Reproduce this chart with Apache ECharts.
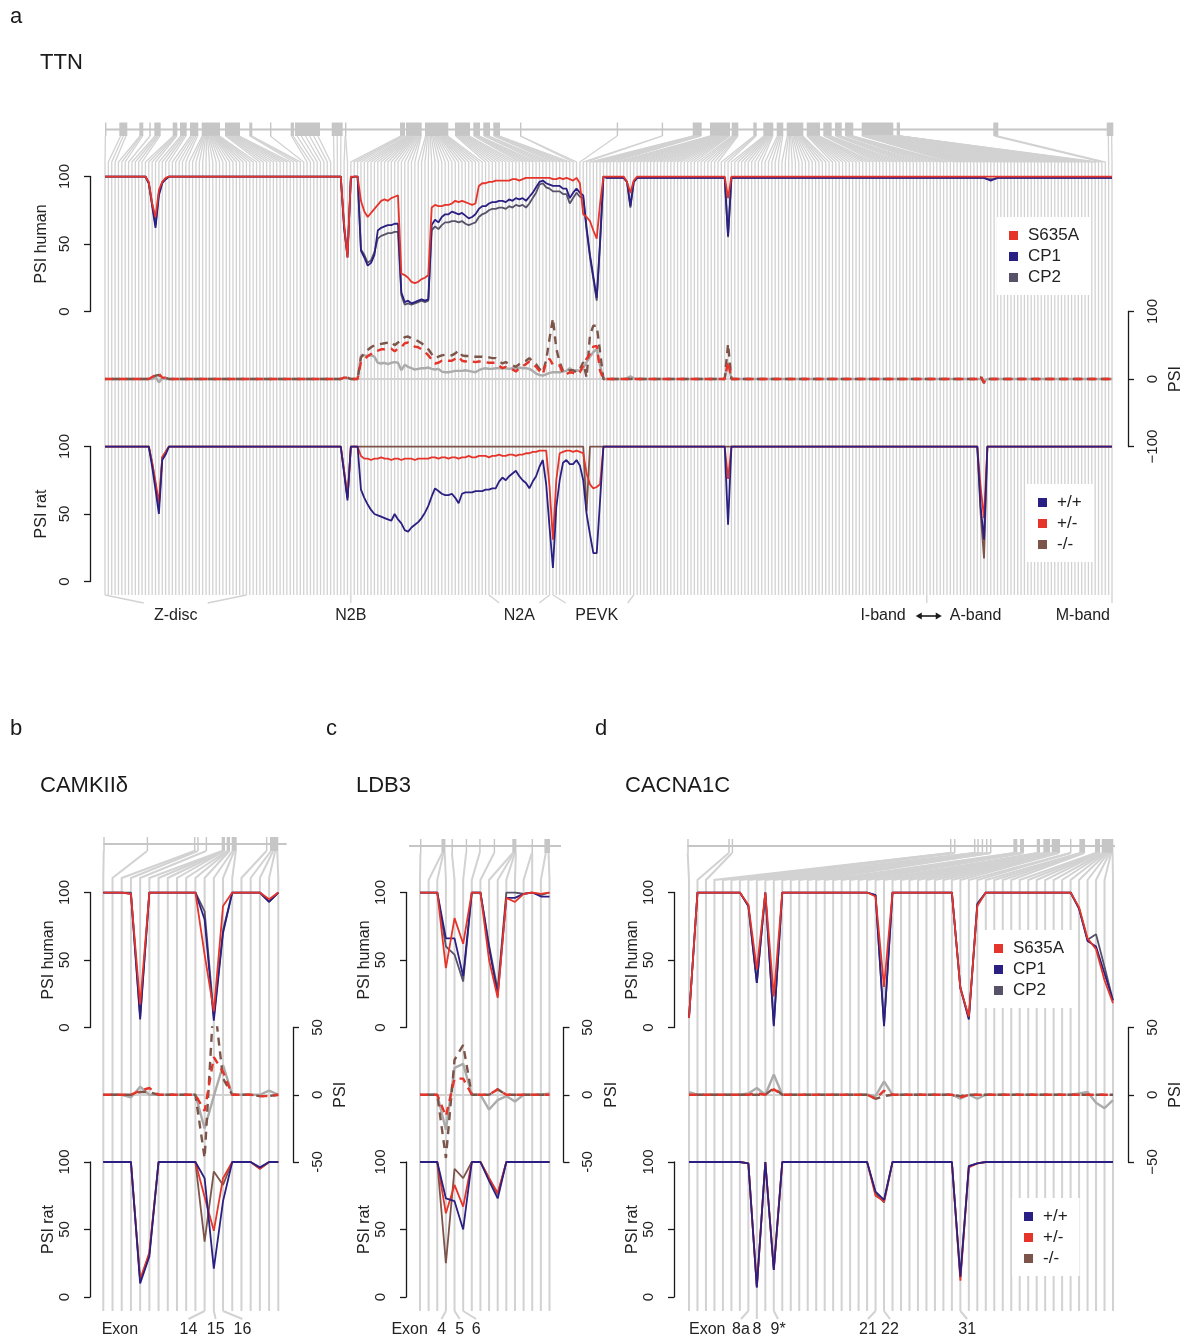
<!DOCTYPE html>
<html>
<head>
<meta charset="utf-8">
<title>PSI per exon</title>
<script src="https://cdn.jsdelivr.net/npm/echarts@6/dist/echarts.min.js"></script>
<style>
html, body { margin: 0; padding: 0; background: #fff; }
#chart { width: 1193px; height: 1343px; }
</style>
</head>
<body>
<div id="chart"></div>
<script>
// repeat one read value over a flat stretch of exons
function rep(v, n) { var a = []; for (var k = 0; k < n; k++) a.push(v); return a; }

// ---------- TTN (300 exons) ----------
var ttnS635A = [].concat(rep(100, 13), [96, 80, 70, 90, 96, 99], rep(100, 51), [100, 65, 40, 100, 100, 100],
  [82, 74, 70, 73, 76, 79, 82, 83, 82, 84, 85, 86], [28, 27, 25, 22, 21, 22, 24, 25, 27],
  [77, 79, 78, 78, 79, 79, 80, 82, 81, 82, 81, 80, 79, 80],
  [93, 95, 95, 96, 96, 97, 97, 97, 97, 97, 98, 98, 97, 98, 99, 99, 99, 99, 99, 99, 99, 99, 98, 98, 99, 98, 99, 98, 97, 99, 95],
  [72, 70, 67, 60, 54, 80], rep(100, 7), [96, 88, 97], rep(100, 27), [84], rep(100, 114));
var ttnCP1 = [].concat(rep(100, 13), [95, 78, 62, 86, 95, 98], rep(100, 51), [100, 62, 40, 99, 100, 100],
  [45, 40, 34, 36, 42, 60, 62, 63, 64, 64, 65, 65], [14, 7, 8, 6, 7, 8, 9, 8, 9],
  [64, 68, 66, 70, 72, 72, 74, 73, 72, 73, 71, 69, 70, 72],
  [76, 78, 78, 80, 81, 81, 82, 82, 81, 83, 82, 84, 83, 84, 82, 85, 88, 92, 96, 97, 95, 94, 93, 93, 93, 91, 91, 84, 88, 91, 88],
  [86, 62, 42, 26, 10, 52], [100, 99, 99, 99, 99, 99, 99], [96, 78, 96], rep(99, 27), [56],
  rep(99, 76), [98, 97, 98], rep(99, 35));
var ttnCP2 = [].concat(rep(100, 13), [95, 80, 64, 88, 96, 98], rep(100, 51), [100, 62, 42, 99, 100, 100],
  [46, 42, 36, 38, 44, 54, 56, 57, 58, 58, 59, 59], [12, 5, 6, 5, 6, 7, 8, 7, 8],
  [60, 63, 61, 64, 66, 66, 67, 67, 66, 67, 65, 64, 65, 66],
  [70, 72, 73, 75, 76, 76, 77, 77, 76, 78, 77, 79, 78, 79, 77, 80, 84, 88, 94, 95, 92, 91, 89, 89, 89, 87, 87, 80, 84, 88, 85],
  [84, 60, 40, 24, 8, 50], [100, 99, 99, 99, 99, 99, 99], [96, 77, 96], rep(99, 27), [55],
  rep(99, 76), [98, 98, 98], rep(99, 35));

var ttnDiffHuman = [].concat(rep(0, 13), [0, 0, 3, -5, 1, 0], rep(0, 52), [2, 1, 0, 0, 0],
  [35, 35, 34, 35, 33, 24, 23, 24, 22, 24, 25, 24, 13, 21, 18, 16, 14, 15, 16, 16, 17, 15, 14, 15, 11, 10, 10, 11, 12, 12,
   12, 13, 12, 11, 10, 13, 15, 16, 15, 15, 16, 16, 16, 16, 15, 16, 15, 17, 16, 16, 15, 12, 8, 6, 5, 7, 9, 10, 10, 10,
   11, 12, 16, 12, 13, 12, 16, 25, 33, 40, 44, 20, 0],
  rep(0, 6), [1, 4, 1], rep(0, 27), [24], rep(0, 75), [-3], rep(0, 38));
var ttnDiffHet = [].concat(rep(0, 13), [0, 3, 6, 8, 2, 2], rep(0, 52), [2, 2, 0, 0, 0],
  [25, 29, 34, 37, 41, 42, 44, 44, 45, 45, 41, 45, 47, 53, 54, 51, 48, 47, 44, 40, 35, 29, 23, 24, 27, 28, 27, 27, 30, 33,
   27, 26, 27, 26, 25, 26, 26, 25, 24, 24, 24, 20, 16, 18, 16, 14, 11, 16, 19, 22, 26, 22, 18, 12, 7, 25, 30, 21, 20, 20,
   8, 7, 10, 9, 7, 10, 20, 30, 37, 48, 49, 12, 0],
  rep(0, 36), [26], rep(0, 74), [5, -5], rep(0, 38));
var ttnDiffKo = [].concat(rep(0, 13), [0, 3, 5, 6, 2, 2], rep(0, 52), [2, 2, 0, 0, 0],
  [32, 38, 43, 47, 50, 51, 52, 53, 54, 55, 50, 54, 57, 62, 63, 60, 58, 56, 53, 49, 44, 37, 31, 33, 35, 36, 36, 35, 38, 42,
   35, 34, 34, 34, 33, 33, 33, 32, 32, 31, 31, 26, 23, 25, 22, 20, 18, 22, 25, 27, 31, 26, 22, 15, 10, 28, 60, 90, 45, 25,
   12, 10, 13, 13, 10, 14, 25, 2, 65, 79, 79, 40, 0],
  rep(0, 36), [52], rep(0, 74), [3, -6], rep(0, 38));

var ttnWT = [].concat(rep(100, 13), [100, 85, 68, 50, 90, 94], rep(100, 52), [80, 60, 100, 100, 100],
  [68, 62, 57, 53, 50, 49, 48, 47, 46, 45, 50, 46, 43, 38, 37, 40, 42, 44, 47, 51, 56, 63, 69, 67, 65, 64, 64, 65, 62, 58,
   65, 66, 66, 66, 67, 67, 67, 68, 68, 69, 69, 74, 77, 75, 78, 80, 82, 78, 75, 73, 69, 74, 78, 85, 90, 72, 40, 10, 55, 75,
   88, 90, 87, 87, 90, 86, 75, 50, 35, 21, 21, 60, 100],
  rep(100, 36), [42], rep(100, 74), [55, 31], rep(100, 38));
var ttnHet = [].concat(rep(100, 13), [100, 88, 74, 58, 92, 96], rep(100, 52), [82, 62, 100, 100, 100],
  [93, 91, 91, 90, 91, 91, 92, 91, 91, 90, 91, 91, 90, 91, 91, 91, 90, 91, 91, 91, 91, 92, 92, 91, 92, 92, 91, 92, 92, 91,
   92, 92, 93, 92, 92, 93, 93, 93, 92, 93, 93, 94, 93, 93, 94, 94, 93, 94, 94, 95, 95, 96, 96, 97, 97, 97, 70, 31, 75, 95,
   96, 97, 97, 96, 97, 96, 95, 80, 72, 69, 70, 72, 100],
  rep(100, 36), [76], rep(100, 74), [70, 47], rep(100, 38));
var ttnKo = [].concat(rep(100, 13), [100, 88, 72, 55, 92, 96], rep(100, 52), [82, 62, 100, 100, 100],
  rep(100, 67), [52], rep(100, 116), [50, 17], rep(100, 38));

// gene model: [start, end] along the gene (gene units), first and last exon drawn from it
var ttnGeneLength = 1008;
var ttnExonBlocks = [
  [0, 0.8, 0, 0], [14.3, 22.3, 1, 3], [34.3, 38.3, 4, 6], [44.3, 45.7, 7, 7], [49.3, 55.7, 8, 11],
  [67.7, 72.3, 12, 15], [75, 81.7, 16, 19], [85, 93.3, 20, 24], [96.7, 115, 25, 45], [120, 135, 46, 55],
  [144.3, 147.3, 56, 58], [165, 165.8, 59, 59], [185.7, 189, 60, 61], [190, 215, 62, 67], [226.7, 237.7, 68, 70],
  [240, 240.8, 71, 72], [295, 300, 73, 76], [301, 316.7, 77, 92], [320, 343.3, 93, 112], [350, 365, 113, 122],
  [368.3, 375, 123, 128], [378.3, 385, 129, 132], [388.3, 395, 133, 138], [415, 415.8, 139, 140],
  [511.7, 512.5, 141, 141], [556.7, 557.5, 142, 143], [587.7, 596.7, 144, 151], [605, 625, 152, 175],
  [626.7, 633.3, 176, 182], [648.3, 651.7, 183, 185], [658.3, 668.3, 186, 195], [671.7, 678.3, 196, 200],
  [681.7, 698.3, 201, 215], [701.7, 715, 216, 228], [718.3, 726.7, 229, 236], [730, 736.7, 237, 242],
  [740, 748.3, 243, 250], [756.7, 788.3, 251, 290], [791.7, 795, 291, 295], [888.3, 893.3, 296, 297],
  [1001.7, 1008.3, 298, 299]
];
var ttnRegions = [
  { text: 'Z-disc', from: 0, to: 42, at: 21, gap: 32 },
  { text: 'N2B', exon: 73, at: 73 },
  { text: 'N2A', from: 114, to: 132, at: 123, gap: 20 },
  { text: 'PEVK', from: 133, to: 157, at: 146, gap: 31 },
  { text: 'I-band', exon: 244, at: 244, align: 'right', dx: -21 },
  { text: 'A-band', at: 244, align: 'left', dx: 23, arrow: true },
  { text: 'M-band', exon: 299, at: 299, align: 'right', dx: -2 }
];

// ---------- CAMKII delta (20 exons) ----------
var camkS635A = [100, 100, 100, 99, 17, 100, 100, 100, 100, 100, 100, 54, 12, 90, 100, 100, 100, 100, 95, 100];
var camkCP1 = [100, 100, 100, 99, 6, 100, 100, 100, 100, 100, 100, 80, 5, 70, 100, 100, 100, 100, 93, 100];
var camkCP2 = [100, 100, 100, 100, 8, 100, 100, 100, 100, 100, 100, 86, 8, 72, 100, 100, 100, 100, 93, 100];
var camkDiffHuman = [0, 0, 0, -2, 6, 0, 0, 0, 0, 0, 0, -25, -1, 22, 0, 0, 0, 0, 3, 0];
var camkDiffHet = [0, 0, 0, 0, 3, 5, 0, 0, 0, 0, 0, -12, 28, 17, 0, 0, 0, -1, -1, 0];
var camkDiffKo = [0, 0, 0, 0, 2, 2, 0, 0, 0, 0, 0, -47, 72, 12, 0, 0, 0, -1, -1, 0];
var camkWT = [100, 100, 100, 100, 10, 30, 100, 100, 100, 100, 100, 88, 21, 71, 100, 100, 100, 96, 100, 100];
var camkHet = [100, 100, 100, 100, 13, 33, 100, 100, 100, 100, 100, 74, 49, 88, 100, 100, 100, 95, 100, 100];
var camkKo = [100, 100, 100, 100, 12, 32, 100, 100, 100, 100, 100, 41, 93, 83, 100, 100, 100, 95, 100, 100];
var camkGeneLength = 183.4;
var camkExonBlocks = [
  [0, 0.8, 0, 0], [43.4, 44.2, 1, 1], [90.7, 91.5, 2, 2], [94, 94.8, 3, 3], [102.4, 103.2, 4, 4],
  [118.4, 121.7, 5, 8], [123.4, 126.7, 9, 11], [128.4, 133.4, 12, 14], [162.7, 163.5, 15, 15], [166.7, 175, 16, 19]
];
var camkLabels = [
  { text: 'Exon', at: 1.8 },
  { text: '14', exon: 11, at: 9.25 },
  { text: '15', exon: 12, at: 12.2 },
  { text: '16', exon: 13, at: 15.1 }
];

// ---------- LDB3 (16 exons) ----------
var ldbS635A = [100, 100, 100, 44, 81, 62, 100, 100, 50, 22, 96, 93, 99, 100, 99, 100];
var ldbCP1 = [100, 100, 100, 66, 66, 38, 100, 100, 59, 24, 96, 96, 99, 100, 97, 97];
var ldbCP2 = [100, 100, 100, 60, 54, 34, 100, 100, 61, 28, 100, 100, 99, 100, 98, 100];
var ldbDiffHuman = [0, 0, 0, -26, 20, 23, 0, 0, -11, -4, -1, -5, 0, 0, 0, 1];
var ldbDiffHet = [0, 0, 0, -16, 12, 12, 0, 0, 0, 4, 0, 0, 0, 0, 0, 0];
var ldbDiffKo = [0, 0, 0, -47, 26, 37, 0, 0, 0, 4, 0, 0, 0, 0, 0, 0];
var ldbWT = [100, 100, 100, 73, 71, 50, 100, 100, 86, 73, 100, 100, 100, 100, 100, 100];
var ldbHet = [100, 100, 100, 62, 83, 67, 100, 100, 88, 77, 100, 100, 100, 100, 100, 100];
var ldbKo = [100, 100, 100, 25, 95, 88, 100, 100, 88, 76, 100, 100, 100, 100, 100, 100];
var ldbGeneLength = 152;
var ldbExonBlocks = [
  [11, 11.8, 0, 0], [32.4, 36.4, 1, 3], [42.5, 43.3, 4, 4], [56.7, 57.5, 5, 5], [70.2, 71, 6, 6],
  [84.7, 85.5, 7, 7], [103.3, 107.4, 8, 11], [122.6, 123.4, 12, 13], [135.4, 141, 14, 15]
];
var ldbLabels = [
  { text: 'Exon', at: -1.2 },
  { text: '4', exon: 3, at: 2.5 },
  { text: '5', exon: 4, at: 4.6 },
  { text: '6', exon: 5, at: 6.5 }
];

// ---------- CACNA1C (51 exons) ----------
var cacS635A = [].concat([7], rep(100, 6), [91, 43, 100, 23], rep(100, 11), [97, 30], rep(100, 8), [29, 8, 90], rep(100, 11), [89, 66, 58, 35, 18]);
var cacCP1 = [].concat([7], rep(100, 6), [90, 33, 100, 1], rep(100, 11), [98, 1], rep(100, 8), [29, 6, 91], rep(100, 11), [88, 64, 60, 40, 20]);
var cacCP2 = [].concat([7], rep(100, 6), [90, 33, 100, 2], rep(100, 11), [98, 2], rep(100, 8), [30, 7, 92], rep(100, 11), [88, 65, 69, 45, 20]);
var cacDiffHuman = [].concat([2], rep(0, 6), [1, 5, 0, 15], rep(0, 11), [-1, 10], rep(0, 8), [-3, 0, -3], rep(0, 11), [1, 2, -6, -10, -4]);
var cacDiffHet = [].concat(rep(0, 7), [0, 1, 0, 4], rep(0, 11), [-3, 3], rep(0, 8), [-2, 0, 0], rep(0, 16));
var cacDiffKo = [].concat(rep(0, 7), [0, 0, 0, 5], rep(0, 11), [-3, -1], rep(0, 8), [-1, 0, 0], rep(0, 16));
var cacWT = [].concat(rep(100, 7), [99, 7, 100, 20], rep(100, 11), [78, 72], rep(100, 8), [15, 97, 99], rep(100, 16));
var cacHet = [].concat(rep(100, 7), [99, 8, 100, 21], rep(100, 11), [75, 71], rep(100, 8), [12, 96, 99], rep(100, 16));
var cacKo = [].concat(rep(100, 7), [99, 7, 100, 20], rep(100, 11), [77, 70], rep(100, 8), [15, 97, 99], rep(100, 16));
var cacGeneLength = 427.7;
var cacExonBlocks = [
  [0, 0.8, 0, 0], [41, 41.8, 1, 1], [44.4, 45.2, 2, 2], [262.7, 263.5, 3, 4], [266.7, 267.5, 5, 6],
  [286.7, 287.5, 7, 8], [290, 290.8, 9, 10], [294.4, 295.2, 11, 12], [298.7, 299.5, 13, 13], [302.7, 303.5, 14, 15],
  [326, 330, 16, 18], [332.7, 336.7, 19, 21], [349.4, 352.7, 22, 24], [356, 362.7, 25, 28], [364.4, 372.7, 29, 32],
  [382.7, 383.5, 33, 34], [392, 397.7, 35, 38], [407.7, 412.7, 39, 42], [414.4, 426, 43, 50]
];
var cacLabels = [
  { text: 'Exon', at: 2.15 },
  { text: '8a', exon: 7, at: 6.13 },
  { text: '8', exon: 8, at: 8.0 },
  { text: '9*', exon: 10, at: 10.5 },
  { text: '21', exon: 22, at: 21.1 },
  { text: '22', exon: 23, at: 23.7 },
  { text: '31', exon: 32, at: 32.8 }
];

// ---------- styles ----------
var FONT = '"Liberation Sans", Arial, Helvetica, sans-serif';
var RED = '#e5352b', NAVY = '#2a1f82', CP2C = '#585269', BROWN = '#7d5449', DGRAY = '#ababab';
var LGRAY = '#d2d2d2', BOX = '#c6c6c6', INK = '#1a1a1a';

var bottomRows = { human: [892.5, 1027.5], diff: [1027.5, 1162], rat: [1162, 1297] };

var panels = [
  { letter: 'a', gene: 'TTN', letterX: 10, geneX: 40, titleY: [17, 63],
    n: 300, x0: 105, x1: 1112, geneIdx: [0, 299.3], geneLen: ttnGeneLength, blocks: ttnExonBlocks,
    geneY: 129.5, boxTop: 122.5, boxBot: 136, connBot: 162, linesBot: 595, lineW: 1.3,
    human: [176.5, 311.5], diff: [311.5, 446.5], rat: [446.5, 581.5],
    leftX: 90, rightX: 1128, diffMax: 100, minus: '\u2212', labelY: 616, regions: ttnRegions,
    humanData: [ttnS635A, ttnCP1, ttnCP2], diffData: [ttnDiffHuman, ttnDiffHet, ttnDiffKo], ratData: [ttnWT, ttnHet, ttnKo] },
  { letter: 'b', gene: 'CAMKII\u03b4', letterX: 10, geneX: 40, titleY: [729, 786],
    n: 20, x0: 103.3, x1: 278.3, geneIdx: [0, 19.91], geneLen: camkGeneLength, blocks: camkExonBlocks,
    geneY: 844, boxTop: 837, boxBot: 851, connBot: 878, linesBot: 1311, lineW: 2,
    human: bottomRows.human, diff: bottomRows.diff, rat: bottomRows.rat,
    leftX: 90, rightX: 293, diffMax: 50, minus: '-', labelY: 1330, regions: camkLabels,
    humanData: [camkS635A, camkCP1, camkCP2], diffData: [camkDiffHuman, camkDiffHet, camkDiffKo], ratData: [camkWT, camkHet, camkKo] },
  { letter: 'c', gene: 'LDB3', letterX: 326, geneX: 356, titleY: [729, 786],
    n: 16, x0: 420, x1: 549.5, geneIdx: [-1.27, 16.33], geneLen: ldbGeneLength, blocks: ldbExonBlocks,
    geneY: 846, boxTop: 839, boxBot: 853, connBot: 880, linesBot: 1311, lineW: 2,
    human: bottomRows.human, diff: bottomRows.diff, rat: bottomRows.rat,
    leftX: 406, rightX: 563.5, diffMax: 50, minus: '-', labelY: 1330, regions: ldbLabels,
    humanData: [ldbS635A, ldbCP1, ldbCP2], diffData: [ldbDiffHuman, ldbDiffHet, ldbDiffKo], ratData: [ldbWT, ldbHet, ldbKo] },
  { letter: 'd', gene: 'CACNA1C', letterX: 595, geneX: 625, titleY: [729, 786],
    n: 51, x0: 689, x1: 1113, geneIdx: [-0.2, 50.24], geneLen: cacGeneLength, blocks: cacExonBlocks,
    geneY: 846, boxTop: 839, boxBot: 853, connBot: 880, linesBot: 1311, lineW: 2,
    human: bottomRows.human, diff: bottomRows.diff, rat: bottomRows.rat,
    leftX: 674, rightX: 1128, diffMax: 50, minus: '\u2212', labelY: 1330, regions: cacLabels,
    humanData: [cacS635A, cacCP1, cacCP2], diffData: [cacDiffHuman, cacDiffHet, cacDiffKo], ratData: [cacWT, cacHet, cacKo] }
];

var grids = [], xAxes = [], yAxes = [], series = [], graphics = [];

function psiAxis(name, offset) {
  return {
    min: 0, max: 100, interval: 50, position: 'left', offset: offset,
    axisLine: { show: true, onZero: false, lineStyle: { color: INK, width: 1.3 } },
    axisTick: { show: true, length: 6, lineStyle: { color: INK, width: 1.3 } },
    axisLabel: { show: true, rotate: 90, margin: 18, fontSize: 15, color: '#222', fontFamily: FONT,
      showMinLabel: true, showMaxLabel: true },
    splitLine: { show: false },
    name: name, nameLocation: 'middle', nameGap: 33, nameRotate: 90,
    nameTextStyle: { fontSize: 16, color: '#222', fontFamily: FONT }
  };
}

function diffAxis(p) {
  return {
    min: -p.diffMax, max: p.diffMax, interval: p.diffMax, position: 'right', offset: p.rightX - p.x1,
    axisLine: { show: true, onZero: false, lineStyle: { color: INK, width: 1.3 } },
    axisTick: { show: true, length: 6, lineStyle: { color: INK, width: 1.3 } },
    axisLabel: { show: true, rotate: 90, margin: 17, fontSize: 15, color: '#222', fontFamily: FONT,
      showMinLabel: true, showMaxLabel: true,
      formatter: function (v) { return v < 0 ? p.minus + Math.abs(v) : String(v); } },
    splitLine: { show: false },
    name: 'PSI', nameLocation: 'middle', nameGap: 40, nameRotate: 90,
    nameTextStyle: { fontSize: 16, color: '#222', fontFamily: FONT }
  };
}

function lineSeries(name, arr, gi, color, width, dash, z, dashOffset) {
  return {
    type: 'line', name: name, xAxisIndex: gi, yAxisIndex: gi, z: z,
    data: arr.map(function (v, i) { return [i, v]; }),
    showSymbol: false, symbol: 'none', silent: true, animation: false,
    lineStyle: { color: color, width: width, type: dash || 'solid', dashOffset: dashOffset || 0 },
    itemStyle: { color: color }
  };
}

panels.forEach(function (p) {
  var w = p.x1 - p.x0;
  function addGrid(top, bottom, xOpt, yOpt) {
    grids.push({ left: p.x0, top: top, width: w, height: bottom - top, containLabel: false, outerBoundsMode: 'none' });
    var gi = grids.length - 1;
    xAxes.push(Object.assign({ gridIndex: gi, type: 'value', min: 0, max: p.n - 1, show: false }, xOpt || {}));
    yAxes.push(Object.assign({ gridIndex: gi, type: 'value' }, yOpt));
    return gi;
  }
  var bg = addGrid(p.boxTop, p.linesBot, null, { min: 0, max: 1, show: false });
  var hg = addGrid(p.human[0], p.human[1], null, psiAxis('PSI human', p.x0 - p.leftX));
  var dg = addGrid(p.diff[0], p.diff[1], {
    show: true, axisLine: { show: true, onZero: true, lineStyle: { color: LGRAY, width: 2 } },
    axisTick: { show: false }, axisLabel: { show: false }, splitLine: { show: false }
  }, diffAxis(p));
  var rg = addGrid(p.rat[0], p.rat[1], null, psiAxis('PSI rat', p.x0 - p.leftX));

  // gene units -> exon index space of this panel
  function geneToIdx(g) { return p.geneIdx[0] + g / p.geneLen * (p.geneIdx[1] - p.geneIdx[0]); }
  var exonLinks = [];
  p.blocks.forEach(function (b) {
    var cnt = b[3] - b[2] + 1;
    for (var e = b[2]; e <= b[3]; e++) {
      exonLinks.push([e, geneToIdx(b[0] + (e - b[2] + 0.5) / cnt * (b[1] - b[0]))]);
    }
  });

  // gene line and exon boxes
  series.push({
    type: 'custom', xAxisIndex: bg, yAxisIndex: bg, z: 1, silent: true, animation: false, clip: false,
    data: p.blocks.map(function (b) { return [geneToIdx(b[0]), geneToIdx(b[1])]; }),
    renderItem: function (params, api) {
      var xs = api.coord([api.value(0), 0])[0], xe = api.coord([api.value(1), 0])[0];
      var kids = [];
      if (params.dataIndex === 0) {
        var gl = api.coord([p.geneIdx[0], 0])[0], gr = api.coord([p.geneIdx[1], 0])[0];
        kids.push({ type: 'line', shape: { x1: gl, y1: p.geneY, x2: gr, y2: p.geneY }, style: { stroke: BOX, lineWidth: 1.8 } });
      }
      kids.push({ type: 'rect', shape: { x: xs, y: p.boxTop, width: Math.max(xe - xs, 1.4), height: p.boxBot - p.boxTop },
        style: { fill: BOX } });
      return { type: 'group', children: kids };
    }
  });

  // exon guide lines, linked up to the gene model
  series.push({
    type: 'custom', xAxisIndex: bg, yAxisIndex: bg, z: 1, silent: true, animation: false, clip: false,
    data: exonLinks,
    renderItem: function (params, api) {
      var xe = api.coord([api.value(0), 0])[0];
      var xg = api.coord([api.value(1), 0])[0];
      return { type: 'polyline', shape: { points: [[xg, p.boxBot], [xe, p.connBot], [xe, p.linesBot]] },
        style: { stroke: LGRAY, lineWidth: p.lineW, fill: null } };
    }
  });

  // region / exon labels under the guide lines
  series.push({
    type: 'custom', xAxisIndex: bg, yAxisIndex: bg, z: 1, silent: true, animation: false, clip: false,
    data: p.regions.map(function (r, i) { return [r.at, i]; }),
    renderItem: function (params, api) {
      var r = p.regions[params.dataIndex];
      function X(v) { return api.coord([v, 0])[0]; }
      var y0 = p.linesBot, y1 = p.linesBot + 8;
      var ls = { stroke: LGRAY, lineWidth: p.lineW, fill: null };
      var kids = [];
      if (r.from != null) {
        kids.push({ type: 'line', shape: { x1: X(r.from), y1: y0, x2: X(r.at) - r.gap, y2: y1 }, style: ls });
        kids.push({ type: 'line', shape: { x1: X(r.at) + r.gap, y1: y1, x2: X(r.to), y2: y0 }, style: ls });
      } else if (r.exon != null) {
        kids.push({ type: 'line', shape: { x1: X(r.exon), y1: y0, x2: X(r.at), y2: y1 }, style: ls });
      }
      kids.push({ type: 'text', style: { text: r.text, x: X(r.at) + (r.dx || 0), y: p.labelY, fill: '#222',
        font: '16px ' + FONT, align: r.align || 'center', verticalAlign: 'middle' } });
      if (r.arrow) {
        var c = X(r.at) + 2, yA = p.labelY;
        kids.push({ type: 'line', shape: { x1: c - 10, y1: yA, x2: c + 10, y2: yA }, style: { stroke: INK, lineWidth: 1.6 } });
        kids.push({ type: 'polygon', shape: { points: [[c - 13, yA], [c - 7, yA - 3.5], [c - 7, yA + 3.5]] }, style: { fill: INK } });
        kids.push({ type: 'polygon', shape: { points: [[c + 13, yA], [c + 7, yA - 3.5], [c + 7, yA + 3.5]] }, style: { fill: INK } });
      }
      return { type: 'group', children: kids };
    }
  });

  // PSI human
  series.push(lineSeries('CP2', p.humanData[2], hg, CP2C, 1.8, null, 3));
  series.push(lineSeries('CP1', p.humanData[1], hg, NAVY, 1.8, null, 4));
  series.push(lineSeries('S635A', p.humanData[0], hg, RED, 1.8, null, 5));
  // PSI differences
  series.push(lineSeries('dHuman', p.diffData[0], dg, DGRAY, 2.4, null, 3));
  series.push(lineSeries('dKo', p.diffData[2], dg, BROWN, 2.4, [8, 6], 4, 7));
  series.push(lineSeries('dHet', p.diffData[1], dg, RED, 2.4, [8, 6], 5));
  // PSI rat
  series.push(lineSeries('-/-', p.ratData[2], rg, BROWN, 1.8, null, 3));
  series.push(lineSeries('+/-', p.ratData[1], rg, RED, 1.8, null, 4));
  series.push(lineSeries('+/+', p.ratData[0], rg, NAVY, 1.8, null, 5));

  graphics.push({ type: 'text', x: p.letterX, y: p.titleY[0], style: { text: p.letter, font: '22px ' + FONT, fill: INK, verticalAlign: 'middle' } });
  graphics.push({ type: 'text', x: p.geneX, y: p.titleY[1], style: { text: p.gene, font: '22px ' + FONT, fill: INK, verticalAlign: 'middle' } });
});

function legendBox(names, left, top) {
  return {
    data: names, left: left, top: top, orient: 'vertical', icon: 'rect', itemWidth: 9, itemHeight: 9, itemGap: 4,
    backgroundColor: '#fff', padding: [10, 12, 9, 12], selectedMode: false,
    textStyle: { fontSize: 17, color: '#222', fontFamily: FONT, padding: [0, 0, 0, 5] }
  };
}

var chart = echarts.init(document.getElementById('chart'), null, { renderer: 'canvas' });
chart.setOption({
  animation: false,
  backgroundColor: '#fff',
  grid: grids,
  xAxis: xAxes,
  yAxis: yAxes,
  legend: [
    legendBox(['S635A', 'CP1', 'CP2'], 997, 217),
    legendBox(['+/+', '+/-', '-/-'], 1026, 484),
    legendBox(['S635A', 'CP1', 'CP2'], 982, 930),
    legendBox(['+/+', '+/-', '-/-'], 1012, 1198)
  ],
  graphic: graphics,
  series: series
});
</script>
</body>
</html>
